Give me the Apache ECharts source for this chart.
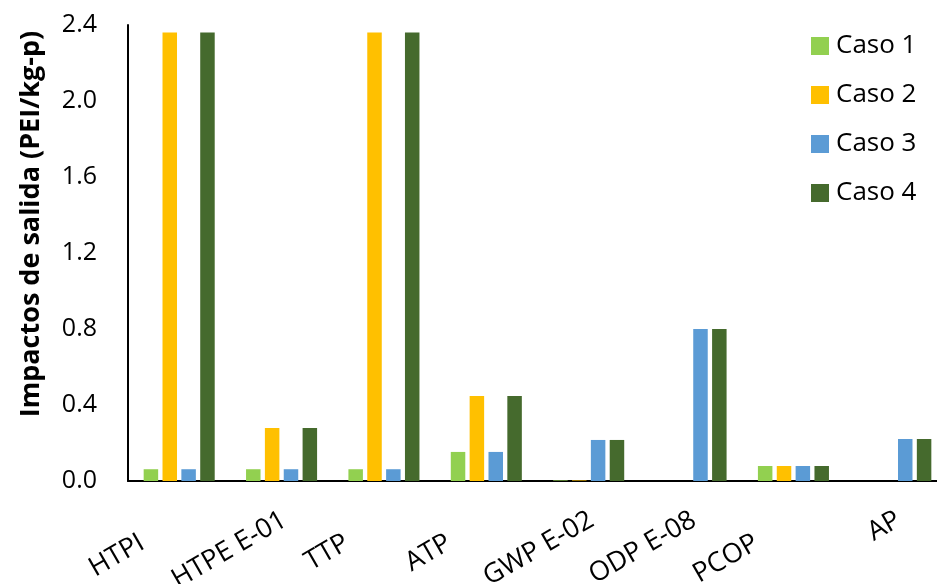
<!DOCTYPE html>
<html>
<head>
<meta charset="utf-8">
<script src="https://cdn.jsdelivr.net/npm/echarts@6/dist/echarts.min.js"></script>
<style>html,body{margin:0;padding:0;background:#fff;}#c{width:937px;height:584px;}</style>
</head>
<body>
<div id="c"></div>
<script>
var categories = ['HTPI', 'HTPE E-01', 'TTP', 'ATP', 'GWP E-02', 'ODP E-08', 'PCOP', 'AP'];
var caso1 = [0.062, 0.062, 0.062, 0.153, 0.003, 0, 0.079, 0];
var caso2 = [2.36, 0.279, 2.36, 0.447, 0.003, 0, 0.079, 0];
var caso3 = [0.062, 0.062, 0.062, 0.153, 0.216, 0.80, 0.079, 0.221];
var caso4 = [2.36, 0.279, 2.36, 0.447, 0.216, 0.80, 0.079, 0.221];
var seriesNames = ['Caso 1', 'Caso 2', 'Caso 3', 'Caso 4'];
var yTicks = ['0.0', '0.4', '0.8', '1.2', '1.6', '2.0', '2.4'];
var yAxisTitle = 'Impactos de salida (PEI/kg-p)';
// short labels that sit further from their tick in the original
var shortLabels = ['HTPI', 'TTP', 'ATP', 'PCOP'];

var colors = ['#92D050', '#FFC000', '#5B9BD5', '#456A2D'];
var font = 'Open Sans';
var chart = echarts.init(document.getElementById('c'));
var values = [caso1, caso2, caso3, caso4];
var gridBase = { top: 25, bottom: 103, containLabel: false, outerBoundsMode: 'none' };
function grid(shift) {
  return Object.assign({}, gridBase, { left: 128 - shift, right: -10 + shift });
}
function labelAxis(gi, margin, show) {
  return {
    type: 'category', gridIndex: gi, data: categories,
    axisLine: { show: false }, axisTick: { show: false }, splitLine: { show: false },
    axisLabel: {
      interval: 0, rotate: 30, margin: margin,
      fontFamily: font, fontSize: 27, color: '#000', hideOverlap: false,
      formatter: function (v) { return show(v) ? v : ''; }
    }
  };
}
function hiddenY(gi) {
  return { type: 'value', gridIndex: gi, min: 0, max: 2.4, show: false };
}
function isShort(v) { return shortLabels.indexOf(v) >= 0; }
chart.setOption({
  animation: false,
  color: colors,
  grid: [grid(0), grid(-3), grid(37)],
  legend: {
    orient: 'vertical', left: 806, top: 28, itemWidth: 18, itemHeight: 18, itemGap: 23,
    icon: 'rect',
    textStyle: { fontFamily: font, fontSize: 26, color: '#000', padding: [0, 0, 0, 2] },
    data: seriesNames
  },
  xAxis: [{
    type: 'category', gridIndex: 0, data: categories,
    axisLine: { lineStyle: { color: '#000', width: 2 } },
    axisTick: { show: false },
    axisLabel: { show: false }
  },
  labelAxis(1, 37, function (v) { return !isShort(v); }),
  labelAxis(2, 60, isShort)],
  yAxis: [{
    type: 'value', gridIndex: 0, min: 0, max: 2.4, interval: 0.4,
    axisLine: { show: true, lineStyle: { color: '#000', width: 2 } },
    axisTick: { show: false },
    splitLine: { show: false },
    axisLabel: {
      margin: 31, fontFamily: font, fontSize: 25, color: '#000',
      formatter: function (v) { return yTicks[Math.round(v / 0.4)]; }
    }
  }, hiddenY(1), hiddenY(2)],
  graphic: [{
    type: 'text', x: 31, y: 224, rotation: Math.PI / 2,
    style: { text: yAxisTitle, fontFamily: font, fontSize: 27, fontWeight: 'bold', fill: '#000',
      align: 'center', verticalAlign: 'middle' }
  }],
  series: seriesNames.map(function (n, i) {
    return { name: n, type: 'bar', data: values[i], barWidth: 14.5, barGap: '30%',
      itemStyle: { color: colors[i] } };
  })
});
</script>
</body>
</html>
